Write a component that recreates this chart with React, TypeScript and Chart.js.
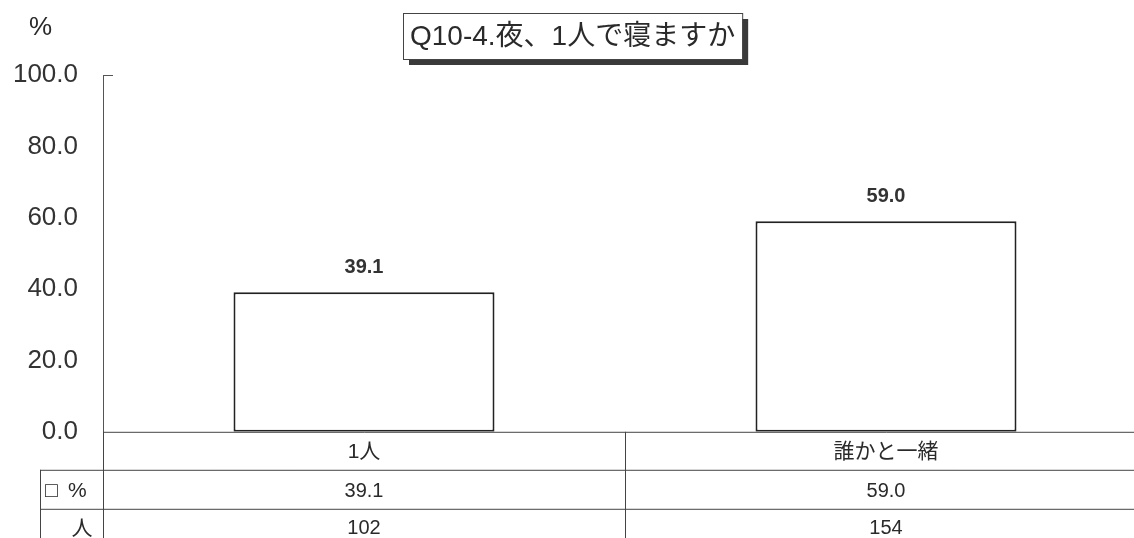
import React, { useEffect, useRef } from "react";
import { Chart, registerables } from "chart.js";

Chart.register(...registerables);

const categories = ["1人", "誰かと一緒"];
const percentValues = [39.1, 59.0];
const countValues = [102, 154];
const titleText = "Q10-4.夜、1人で寝ますか";
const yUnit = "%";
const rowLabelPctBox = "□";
const rowLabelPct = "%";
const rowLabelCount = "人";

const FONT = '"Liberation Sans", "Noto Sans CJK JP", sans-serif';
const INK = "#2a2a2a";

const tablePlugin = {
  id: "tablePlugin",
  afterDraw(chart: any) {
    const ctx = chart.ctx as CanvasRenderingContext2D;
    const area = chart.chartArea;
    const xs = chart.scales.x;
    const H = chart.height;
    ctx.save();

    // "%" unit label
    ctx.fillStyle = INK;
    ctx.font = `26px ${FONT}`;
    ctx.textAlign = "left";
    ctx.textBaseline = "middle";
    ctx.fillText(yUnit, 29, 28);

    // small tick at top of y axis
    ctx.strokeStyle = "#555";
    ctx.lineWidth = 1;
    ctx.beginPath();
    ctx.moveTo(area.left, area.top + 0.5);
    ctx.lineTo(area.left + 10, area.top + 0.5);
    ctx.stroke();

    // title box with shadow
    ctx.font = `28px ${FONT}`;
    const tw = ctx.measureText(titleText).width;
    const bx = 403, by = 13, bh = 46;
    const bw = tw + 14;
    ctx.fillStyle = "#3a3a3a";
    ctx.fillRect(bx + 6, by + 6, bw, bh);
    ctx.fillStyle = "#fff";
    ctx.fillRect(bx, by, bw, bh);
    ctx.strokeStyle = "#444";
    ctx.lineWidth = 1;
    ctx.strokeRect(bx + 0.5, by + 0.5, bw, bh);
    ctx.fillStyle = INK;
    ctx.textAlign = "left";
    ctx.textBaseline = "middle";
    ctx.fillText(titleText, bx + 7, by + bh / 2 + 1);

    // data labels above bars
    const meta = chart.getDatasetMeta(0);
    ctx.font = `bold 20px ${FONT}`;
    ctx.textAlign = "center";
    ctx.textBaseline = "middle";
    ctx.fillStyle = "#333";
    meta.data.forEach((bar: any, i: number) => {
      ctx.fillText(percentValues[i].toFixed(1), bar.x, bar.y - 25);
    });

    // table lines
    const row1 = area.bottom;
    const row2 = area.bottom + 38;
    const row3 = area.bottom + 77;
    const tableLeft = 40;
    ctx.strokeStyle = "#444";
    ctx.lineWidth = 1;
    ctx.beginPath();
    ctx.moveTo(area.left, row1 + 0.5);
    ctx.lineTo(chart.width, row1 + 0.5);
    ctx.moveTo(tableLeft, row2 + 0.5);
    ctx.lineTo(chart.width, row2 + 0.5);
    ctx.moveTo(tableLeft, row3 + 0.5);
    ctx.lineTo(chart.width, row3 + 0.5);
    ctx.moveTo(tableLeft + 0.5, row2);
    ctx.lineTo(tableLeft + 0.5, H);
    ctx.moveTo(area.left + 0.5, row1);
    ctx.lineTo(area.left + 0.5, H);
    for (let i = 1; i < categories.length; i++) {
      const bx2 = (xs.getPixelForValue(i - 1) + xs.getPixelForValue(i)) / 2;
      ctx.moveTo(Math.round(bx2) + 0.5, row1);
      ctx.lineTo(Math.round(bx2) + 0.5, H);
    }
    ctx.stroke();

    // row headers
    ctx.fillStyle = INK;
    ctx.font = `21px ${FONT}`;
    ctx.textAlign = "left";
    ctx.textBaseline = "middle";
    ctx.fillText(rowLabelPctBox, 45, (row2 + row3) / 2 + 2);
    ctx.fillText(rowLabelPct, 68, (row2 + row3) / 2 + 2);
    ctx.textAlign = "center";
    ctx.fillText(rowLabelCount, 82, (row3 + H) / 2 + 6);

    // row values
    ctx.font = `20px ${FONT}`;
    categories.forEach((_, i) => {
      const cx = xs.getPixelForValue(i);
      ctx.fillText(percentValues[i].toFixed(1), cx, (row2 + row3) / 2 + 2);
      ctx.fillText(String(countValues[i]), cx, (row3 + H) / 2 + 5);
    });

    ctx.restore();
  },
};

export default function App() {
  const canvasRef = useRef<HTMLCanvasElement | null>(null);

  useEffect(() => {
    document.body.style.margin = "0";
    const canvas = canvasRef.current;
    if (!canvas) return;
    const chart = new Chart(canvas, {
      type: "bar",
      data: {
        labels: categories,
        datasets: [
          {
            data: percentValues,
            backgroundColor: "#ffffff",
            borderColor: "#222",
            borderWidth: 2,
            borderSkipped: false,
            categoryPercentage: 1,
            barPercentage: 0.5,
          },
        ],
      },
      options: {
        animation: false,
        responsive: false,
        maintainAspectRatio: false,
        layout: { padding: { top: 75, left: 13, right: 1, bottom: 65 } },
        plugins: {
          legend: { display: false },
          title: { display: false },
          tooltip: { enabled: false },
        },
        scales: {
          x: {
            grid: { display: false, drawTicks: false },
            border: { display: false },
            ticks: {
              color: INK,
              font: { family: FONT, size: 21 },
              padding: 8,
              maxRotation: 0,
            },
          },
          y: {
            min: 0,
            max: 100,
            afterFit: (scale: any) => {
              scale.width = 90;
            },
            grid: { display: false, drawTicks: false },
            border: { display: true, color: "#555", width: 1 },
            ticks: {
              stepSize: 20,
              color: "#333",
              padding: 25,
              font: { family: FONT, size: 26 },
              callback: (v: any) => Number(v).toFixed(1),
            },
          },
        },
      },
      plugins: [tablePlugin],
    });
    return () => chart.destroy();
  }, []);

  return (
    <div
      style={{
        position: "fixed",
        left: 0,
        top: 0,
        width: 1134,
        height: 538,
        overflow: "hidden",
        background: "#fff",
      }}
    >
      <canvas
        ref={canvasRef}
        width={1148}
        height={538}
        style={{ width: 1148, height: 538, display: "block" }}
      />
    </div>
  );
}
